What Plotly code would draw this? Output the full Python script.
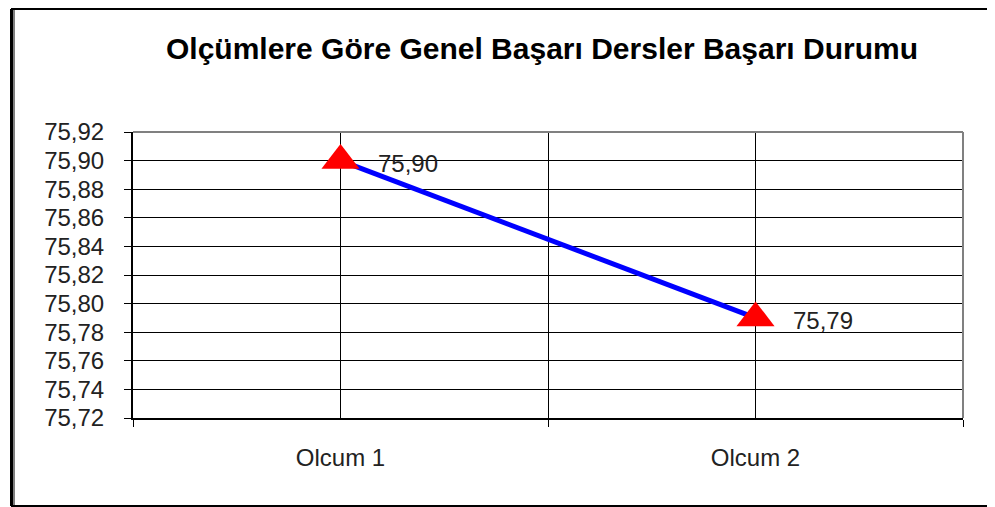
import plotly.graph_objects as go

categories = ["Olcum 1", "Olcum 2"]
values = [75.90, 75.79]
value_labels = ["75,90", "75,79"]
y_ticks = [75.72, 75.74, 75.76, 75.78, 75.80, 75.82, 75.84, 75.86, 75.88, 75.90, 75.92]
title_text = "Olçümlere Göre Genel Başarı Dersler Başarı Durumu"

FONT = "Liberation Sans, Arial, sans-serif"

# page body has an 8px margin; figure is sized so content lands inside the 995x507 window
W, H = 987, 499
L, R, T, B = 125, 32, 124, 89
PW, PH = W - L - R, H - T - B

def px_x(x):
    return (x - L) / PW

def px_y(y):
    return (H - B - y) / PH

fig = go.Figure()
fig.add_trace(go.Scatter(
    x=categories, y=values, mode="lines+markers",
    line=dict(color="#0000FF", width=5),
    marker=dict(symbol="triangle-up", size=33, color="#FF0000", line=dict(width=0)),
    cliponaxis=False, showlegend=False, hoverinfo="skip",
))

for c, v, t in zip(categories, values, value_labels):
    fig.add_annotation(x=c, y=v, text=t, showarrow=False, xanchor="left", yanchor="middle",
                       xshift=35, yshift=-3, font=dict(family=FONT, size=24, color="#222"))

# vertical lines at category positions
for c in categories:
    fig.add_shape(type="line", xref="x", yref="paper", x0=c, x1=c, y0=0, y1=1,
                  line=dict(color="black", width=1), layer="below")

# plot-area border (top/right grey)
fig.add_shape(type="line", xref="paper", yref="paper", x0=0, x1=1, y0=1, y1=1,
              line=dict(color="#808080", width=2))
fig.add_shape(type="line", xref="paper", yref="paper", x0=1, x1=1, y0=0, y1=1,
              line=dict(color="#808080", width=2))

# outer chart border (right side lies outside the picture)
fig.add_shape(type="line", xref="paper", yref="paper",
              x0=px_x(3), x1=px_x(W), y0=px_y(1), y1=px_y(1),
              line=dict(color="black", width=2))
fig.add_shape(type="line", xref="paper", yref="paper",
              x0=px_x(3), x1=px_x(W), y0=px_y(H - 1), y1=px_y(H - 1),
              line=dict(color="black", width=2))
fig.add_shape(type="line", xref="paper", yref="paper",
              x0=px_x(3.5), x1=px_x(3.5), y0=px_y(H - 1), y1=px_y(1),
              line=dict(color="black", width=3))
fig.add_shape(type="line", xref="paper", yref="paper",
              x0=px_x(6), x1=px_x(6), y0=px_y(H - 1), y1=px_y(1),
              line=dict(color="black", width=1))

fig.update_layout(
    width=W, height=H,
    margin=dict(l=L, r=R, t=T, b=B),
    paper_bgcolor="white", plot_bgcolor="white",
    separators=",.",
    font=dict(family=FONT, color="#222"),
    title=dict(text="<b>" + title_text + "</b>", x=534 / W, xanchor="center",
               y=1 - 40 / H, yanchor="middle",
               font=dict(family=FONT, size=30, color="black")),
    xaxis=dict(type="category", range=[-0.5, 1.5], tickson="boundaries",
               ticks="outside", ticklen=7, tickcolor="black", tickwidth=1,
               showgrid=True, gridcolor="black", gridwidth=1,
               showline=True, linecolor="black", linewidth=2,
               tickfont=dict(family=FONT, size=24, color="#222"),
               ticklabelstandoff=17, fixedrange=True),
    yaxis=dict(range=[75.72, 75.92], tickvals=y_ticks, tickformat=".2f",
               ticks="outside", ticklen=7, tickcolor="black", tickwidth=1,
               showgrid=True, gridcolor="black", gridwidth=1,
               showline=True, linecolor="black", linewidth=2, zeroline=False,
               tickfont=dict(family=FONT, size=24, color="#222"),
               ticklabelstandoff=15, fixedrange=True),
)

fig.write_html("out.html")
